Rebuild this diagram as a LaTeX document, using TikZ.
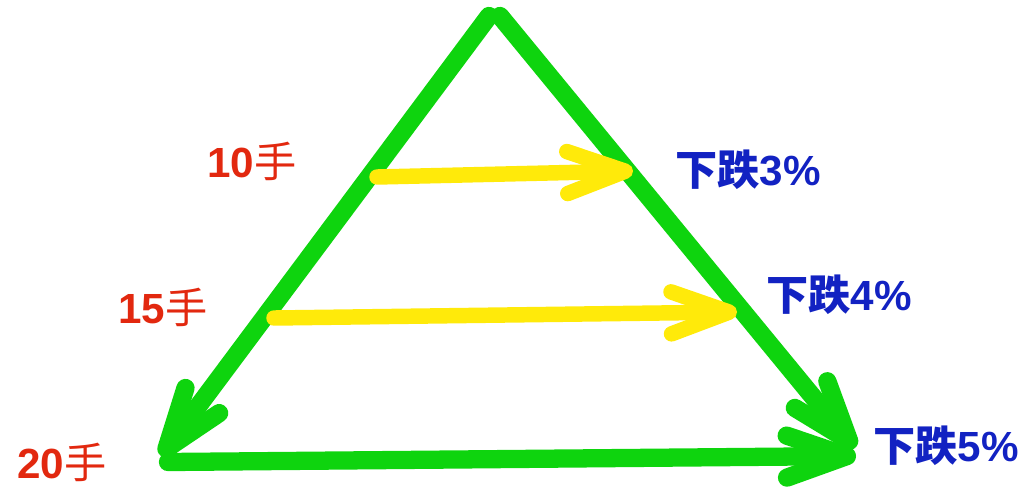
\documentclass[tikz,border=0pt]{standalone}
\usepackage{fontspec}
\setmainfont{Liberation Sans}
\newfontfamily\cjk{Noto Sans CJK SC}
\usepackage{xcolor}
\definecolor{leaf}{HTML}{0ED40E}
\definecolor{lemon}{HTML}{FFEA0A}
\definecolor{brick}{HTML}{E2280F}
\definecolor{royal}{HTML}{1222C2}
\usetikzlibrary{arrows.meta}
\tikzset{
  side/.style   ={draw=leaf,line width=13pt,line cap=round,line join=round},
  sidearr/.style={side,-{Straight Barb[length=1.5cm,width=1.05cm,round]}},
  gain/.style   ={draw=lemon,line width=11pt,line cap=round,
                  -{Straight Barb[length=1.45cm,width=1.05cm,round]}},
  hands/.style  ={text=brick,font=\fontsize{30}{32}\selectfont\bfseries,inner sep=0pt},
  drop/.style   ={text=royal,font=\fontsize{30}{32}\selectfont\bfseries,inner sep=0pt},
}
\begin{document}
\begin{tikzpicture}[x=0.025cm,y=-0.025cm]
\useasboundingbox (0,0) rectangle (1032,495);
%---------------- triangle
\coordinate (topl) at (489,16);
\coordinate (topr) at (500,16);
\coordinate (botl) at (161,456);
\coordinate (bots) at (168,462);
\coordinate (botr) at (856,456);
\coordinate (tipr) at (855,448);
\draw[sidearr] (topl) -- (botl);
\draw[sidearr] (topr) -- (tipr);
\draw[sidearr] (bots) -- (botr);
%---------------- yellow arrows
\coordinate (y1a) at (377,177);
\coordinate (y1b) at (633,171);
\coordinate (y2a) at (274,318);
\coordinate (y2b) at (737,312);
\draw[gain] (y1a) -- (y1b);
\draw[gain] (y2a) -- (y2b);
%---------------- labels
\node[hands,anchor=west] (h10) at (207,161) {10{\cjk\mdseries 手}};
\node[hands,anchor=west] (h15) at (118,307) {15{\cjk\mdseries 手}};
\node[hands,anchor=west] (h20) at (17,462) {20{\cjk\mdseries 手}};
\node[drop,anchor=west] (d3) at (675,170) {{\cjk 下跌}3\%};
\node[drop,anchor=west] (d4) at (766,295) {{\cjk 下跌}4\%};
\node[drop,anchor=west] (d5) at (873,446) {{\cjk 下跌}5\%};
\end{tikzpicture}
\end{document}
